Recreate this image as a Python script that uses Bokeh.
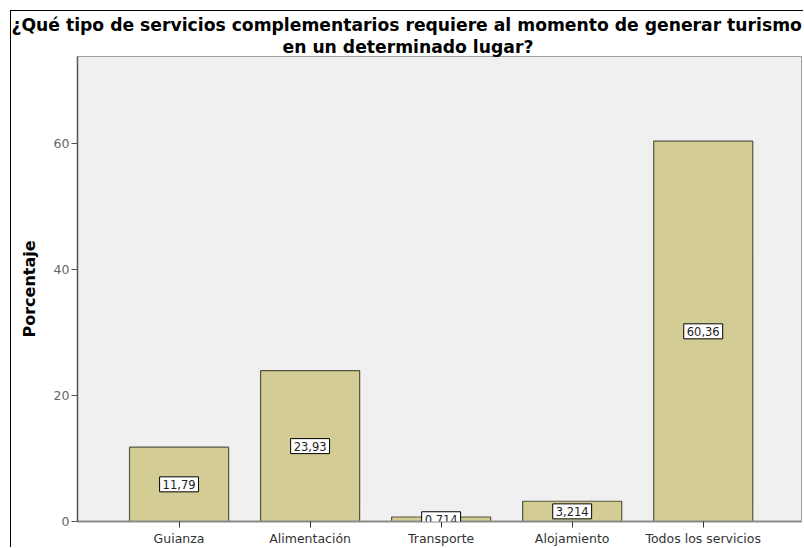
from bokeh.plotting import figure
from bokeh.models import ColumnDataSource, Label, Title, FixedTicker, Range1d
from bokeh.embed import file_html
from bokeh.resources import INLINE

categories = ["Guianza", "Alimentación", "Transporte", "Alojamiento", "Todos los servicios"]
percentages = [11.79, 23.93, 0.714, 3.214, 60.36]
value_labels = ["11,79", "23,93", "0,714", "3,214", "60,36"]
y_ticks = [0, 20, 40, 60]
title_line1 = "¿Qué tipo de servicios complementarios requiere al momento de generar turismo"
title_line2 = "en un determinado lugar?"
y_title = "Porcentaje"

FONT = "DejaVu Sans"

positions = list(range(len(categories)))
source = ColumnDataSource(dict(x=positions, top=percentages))

p = figure(width=793, height=537, output_backend="svg", toolbar_location=None,
           x_range=Range1d(-0.775, 4.75), y_range=Range1d(0, 73.8),
           min_border_left=66, min_border_right=3, min_border_top=45, min_border_bottom=0)
p.title.text = title_line1
p.title.align = "left"
p.title.offset = -66
p.title.text_font = FONT
p.title.text_font_style = "bold"
p.title.text_font_size = "17.2px"
p.title.text_color = "black"
p.title.standoff = 0
t2 = Title(text=title_line2, align="left", offset=205, text_font=FONT, text_color="black",
           text_font_style="bold", text_font_size="17.2px", standoff=0)
p.add_layout(t2, "above")

p.styles = {"margin-left": "10px", "margin-top": "10px",
            "border-left": "1px solid black", "border-top": "1px solid black"}

p.vbar(x="x", top="top", bottom=0, width=0.756, source=source,
       fill_color="#d3cd95", line_color="#55553f", line_width=1.2)

for xp, val, lbl in zip(positions, percentages, value_labels):
    p.add_layout(Label(x=xp, y=val / 2, text=lbl,
                       text_align="center", text_baseline="middle",
                       text_font=FONT, text_font_size="11.5px", text_color="#222222",
                       padding=3,
                       background_fill_color="white",
                       border_line_color="black", border_line_width=1))

p.background_fill_color = "#f0f0f0"
p.border_fill_color = "white"
p.outline_line_color = "#a0a0a0"
p.xgrid.grid_line_color = None
p.ygrid.grid_line_color = None

p.xaxis.ticker = FixedTicker(ticks=positions)
p.xaxis.major_label_overrides = {i: c for i, c in zip(positions, categories)}
p.xaxis.minor_tick_line_color = None
p.xaxis.major_tick_in = 0
p.xaxis.major_tick_out = 6
p.xaxis.major_tick_line_color = "#333333"
p.xaxis.axis_line_color = "#8a8a8a"
p.xaxis.axis_line_width = 2
p.xaxis.major_label_standoff = 3
p.xaxis.major_label_text_font = FONT
p.xaxis.major_label_text_font_size = "12.5px"
p.xaxis.major_label_text_color = "#333333"

p.yaxis.ticker = FixedTicker(ticks=y_ticks)
p.yaxis.minor_tick_line_color = None
p.yaxis.major_tick_in = 0
p.yaxis.major_tick_out = 6
p.yaxis.major_tick_line_color = "#555555"
p.yaxis.axis_line_color = "#555555"
p.yaxis.axis_line_width = 1.5
p.yaxis.major_label_standoff = 2
p.yaxis.major_label_text_font = FONT
p.yaxis.major_label_text_font_size = "12.5px"
p.yaxis.major_label_text_color = "#666666"
p.yaxis.axis_label = y_title
p.yaxis.axis_label_text_font = FONT
p.yaxis.axis_label_text_font_style = "bold"
p.yaxis.axis_label_text_font_size = "16px"
p.yaxis.axis_label_text_color = "black"
p.yaxis.axis_label_standoff = 12

open("out.html", "w").write(file_html(p, INLINE))
